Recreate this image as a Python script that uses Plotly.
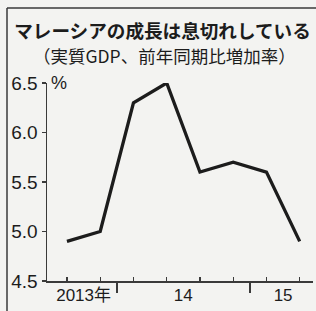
import plotly.graph_objects as go

# Data: Malaysia real GDP growth (yoy %), quarterly 2013Q3 - 2015Q2
quarters = ["2013Q3", "2013Q4", "2014Q1", "2014Q2", "2014Q3", "2014Q4", "2015Q1", "2015Q2"]
growth = [4.9, 5.0, 6.3, 6.5, 5.6, 5.7, 5.6, 4.9]
year_label_pos = [0.5, 3.5, 6.5]
year_labels = ["2013年", "14", "15"]
year_boundaries = [1.5, 5.5]
y_ticks = [4.5, 5.0, 5.5, 6.0, 6.5]
y_ticktext = ["4.5", "5.0", "5.5", "6.0", "6.5"]

x_idx = list(range(len(quarters)))

BG = "#f3f3f1"
INK = "#1c1c1c"
AX = "#3a3a3a"
FONT = "Liberation Sans, Noto Sans CJK JP, sans-serif"

fig = go.Figure()
fig.add_trace(go.Scatter(
    x=x_idx, y=growth, mode="lines",
    line=dict(color=INK, width=3.3),
    hoverinfo="skip", showlegend=False,
))
# invisible trace on overlay axis for year labels
fig.add_trace(go.Scatter(x=x_idx, y=growth, xaxis="x2", mode="lines",
                         line=dict(width=0), hoverinfo="skip", showlegend=False))

fig.update_layout(
    width=316, height=311,
    margin=dict(l=47, r=3, t=83, b=30),
    paper_bgcolor=BG, plot_bgcolor=BG,
    font=dict(family=FONT, color=INK),
    xaxis=dict(
        range=[-0.6, 7.4], showgrid=False, zeroline=False, automargin=False,
        showline=True, linecolor=AX, linewidth=1.5,
        tickmode="array", tickvals=year_boundaries, ticks="outside",
        ticklen=10, tickwidth=1.5, tickcolor=AX, showticklabels=False,
        minor=dict(tickmode="array", tickvals=x_idx, ticks="inside",
                   ticklen=4, tickwidth=1.2, tickcolor=AX, showgrid=False),
    ),
    xaxis2=dict(
        overlaying="x", matches="x", range=[-0.6, 7.4], side="bottom",
        showgrid=False, zeroline=False, showline=False, automargin=False,
        tickmode="array", tickvals=year_label_pos, ticktext=year_labels,
        ticks="", tickfont=dict(size=17, color=INK, family=FONT),
        ticklabelstandoff=2,
    ),
    yaxis=dict(
        range=[4.5, 6.5], showgrid=False, zeroline=False, automargin=False,
        showline=True, linecolor=AX, linewidth=1.5,
        tickmode="array", tickvals=y_ticks, ticktext=y_ticktext,
        ticks="outside", ticklen=4, tickwidth=1.5, tickcolor=AX,
        tickfont=dict(size=19, color=INK, family=FONT),
    ),
    title=dict(
        text="<b>マレーシアの成長は息切れしている</b>",
        font=dict(size=18.6, family="Noto Sans CJK JP", color=INK),
        xref="container", yref="container", automargin=False,
        x=162.5 / 316, xanchor="center", y=1 - 31 / 311, yanchor="middle",
    ),
    annotations=[
        dict(text="（実質GDP、前年同期比増加率）", xref="paper", yref="paper",
             x=(164 - 47) / 266, y=1 + (83 - 55) / 198, xanchor="center", yanchor="middle",
             showarrow=False, font=dict(size=17.5, family="Noto Sans CJK JP", color=INK)),
        dict(text="%", xref="paper", yref="y", x=(49 - 47) / 266, y=6.5,
             xanchor="left", yanchor="middle", showarrow=False,
             font=dict(size=18, family=FONT, color=INK)),
    ],
    shapes=[
        dict(type="line", xref="paper", yref="paper",
             x0=(7 - 47) / 266, x1=(7 - 47) / 266, y0=-(311 - 281) / 198 - 0.05, y1=1 + (83 - 8) / 198,
             line=dict(color=AX, width=1.5)),
        dict(type="line", xref="paper", yref="paper",
             x0=(7 - 47) / 266, x1=1.05, y0=1 + (83 - 8) / 198, y1=1 + (83 - 8) / 198,
             line=dict(color=AX, width=1.5)),
    ],
)

fig.write_html(
    "out.html",
    config={"displayModeBar": False, "staticPlot": True},
    post_script="document.body.style.margin='0';document.body.style.overflow='hidden';document.body.style.background='#f3f3f1';",
)
